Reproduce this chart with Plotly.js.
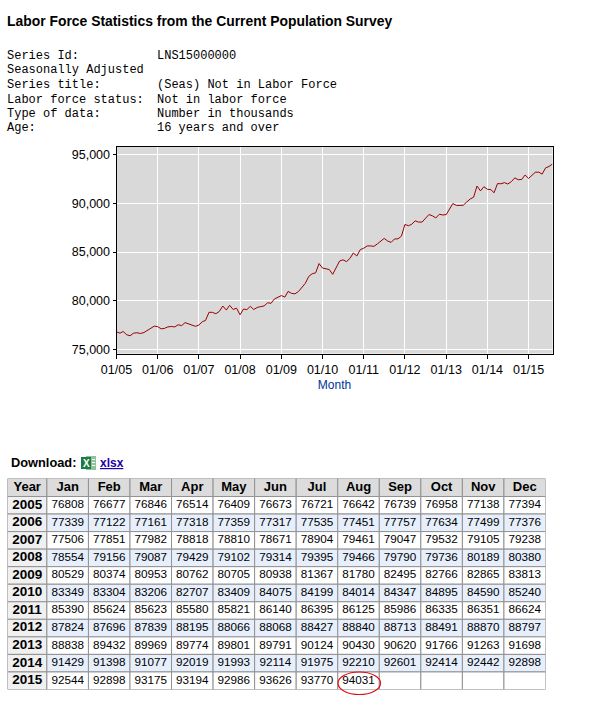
<!DOCTYPE html>
<html><head><meta charset="utf-8">
<script src="https://cdn.plot.ly/plotly-3.0.1.min.js"></script>
<style>html,body{margin:0;padding:0;background:#fff;overflow:hidden}#c{width:598px;height:719px}</style>
</head><body><div id="c"></div>
<script>
const months = ['Jan','Feb','Mar','Apr','May','Jun','Jul','Aug','Sep','Oct','Nov','Dec'];
const years = [2005,2006,2007,2008,2009,2010,2011,2012,2013,2014,2015];
const v2005 = [76808,76677,76846,76514,76409,76673,76721,76642,76739,76958,77138,77394];
const v2006 = [77339,77122,77161,77318,77359,77317,77535,77451,77757,77634,77499,77376];
const v2007 = [77506,77851,77982,78818,78810,78671,78904,79461,79047,79532,79105,79238];
const v2008 = [78554,79156,79087,79429,79102,79314,79395,79466,79790,79736,80189,80380];
const v2009 = [80529,80374,80953,80762,80705,80938,81367,81780,82495,82766,82865,83813];
const v2010 = [83349,83304,83206,82707,83409,84075,84199,84014,84347,84895,84590,85240];
const v2011 = [85390,85624,85623,85580,85821,86140,86395,86125,85986,86335,86351,86624];
const v2012 = [87824,87696,87839,88195,88066,88068,88427,88840,88713,88491,88870,88797];
const v2013 = [88838,89432,89969,89774,89801,89791,90124,90430,90620,91766,91263,91698];
const v2014 = [91429,91398,91077,92019,91993,92114,91975,92210,92601,92414,92442,92898];
const v2015 = [92544,92898,93175,93194,92986,93626,93770,94031];
const rows = [v2005,v2006,v2007,v2008,v2009,v2010,v2011,v2012,v2013,v2014,v2015];

const W = 598, H = 719;
const px = x => x / W, py = y => 1 - y / H;
const MONO = '"Liberation Mono", monospace', SANS = '"Liberation Sans", Arial, sans-serif';

const dates = [], values = [];
rows.forEach((r, i) => r.forEach((v, m) => {
  dates.push(years[i] + '-' + String(m + 1).padStart(2, '0') + '-01');
  values.push(v);
}));
const lineTrace = {type:'scatter', mode:'lines', x:dates, y:values, xaxis:'x', yaxis:'y',
  line:{color:'#990000', width:1}, hoverinfo:'skip', showlegend:false};

/* table: x2 = month index (Year column sits left of 0), y2 = row index (header is -1) */
const XL = -1.448, XR = 11.5, YT = -1.525, YB = 10.5, YEARX = -0.974;
const border = '#929292', blue = '#e6effb', gray = '#f0f0f0', head = '#dcdcdc';
const cellRect = (x0,x1,y0,y1,fill) => ({type:'rect', xref:'x2', yref:'y2', x0, x1, y0, y1, layer:'below',
  fillcolor:fill, line:{color:border, width:1}});
const tableShapes = [];
tableShapes.push(cellRect(XL,-0.5,YT,-0.5,head));
months.forEach((_, m) => tableShapes.push(cellRect(m-0.5,m+0.5,YT,-0.5,head)));
years.forEach((_, r) => {
  tableShapes.push(cellRect(XL,-0.5,r-0.5,r+0.5,gray));
  months.forEach((_, m) => tableShapes.push(cellRect(m-0.5,m+0.5,r-0.5,r+0.5,r%2 ? blue : '#ffffff')));
});
const textTrace = (x,y,text,size) => ({type:'scatter', mode:'text', x, y, text, xaxis:'x2', yaxis:'y2',
  textposition:'middle center', textfont:{family:SANS, size, color:'#000'}, hoverinfo:'skip', showlegend:false, cliponaxis:false});
const hdrX = [YEARX].concat(months.map((_, m) => m));
const hdrT = ['Year'].concat(months).map(t => '<b>'+t+'</b>');
const valX = [], valY = [], valT = [];
rows.forEach((r, i) => r.forEach((v, m) => { valX.push(m); valY.push(i); valT.push(String(v)); }));

const note = (x, y, text, font, size, color) => ({
  xref:'paper', yref:'paper', x:px(x), y:py(y), xanchor:'left', yanchor:'middle',
  showarrow:false, text, font:{family:font, size, color:color||'#000'}, borderpad:0
});
const metaLeft = ['Series Id:','Seasonally Adjusted','Series title:','Labor force status:','Type of data:','Age:'];
const metaRight = ['LNS15000000','','(Seas) Not in Labor Force','Not in labor force','Number in thousands','16 years and over'];
const metaY = [56,70,85,99.5,114,128.5];
const annotations = [
  note(6, 20.5, '<b>Labor Force Statistics from the Current Population Survey</b>', SANS, 13.9),
  note(10, 462.5, '<b>Download:</b>', SANS, 12.8),
  note(99, 462.5, '<b><u>xlsx</u></b>', SANS, 12, '#2200aa'),
  note(82, 463, '<b>X</b>', SANS, 10, '#fff')
];
metaLeft.forEach((t, i) => annotations.push(note(6, metaY[i], t, MONO, 12)));
metaRight.forEach((t, i) => { if (t) annotations.push(note(156, metaY[i], t, MONO, 12)); });

const rect = (x0,y0,x1,y1,fill) => ({type:'rect', xref:'paper', yref:'paper',
  x0:px(x0), x1:px(x1), y0:py(y0), y1:py(y1), fillcolor:fill, line:{width:0}});
const shapes = tableShapes.concat([
  rect(86,456,96,470,'#8fc3a0'),
  rect(81,457,91,469,'#1f7a45'),
  rect(92,459,95,460,'#fff'), rect(92,462,95,463,'#fff'), rect(92,465,95,466,'#fff'),
  {type:'circle', xref:'paper', yref:'paper', x0:px(338), x1:px(380.5), y0:py(694.5), y1:py(672),
   line:{color:'#dd1111', width:1.2}, fillcolor:'rgba(0,0,0,0)', layer:'above'}
]);

const layout = {
  width:W, height:H, margin:{l:0,r:0,t:0,b:0}, paper_bgcolor:'#fff', plot_bgcolor:'#d9d9d9', showlegend:false,
  font:{family:SANS, size:12, color:'#000'},
  xaxis:{type:'date', domain:[px(116.5), px(552.5)], range:['2005-01-01','2015-08-01'],
    dtick:'M12', tick0:'2005-01-01', tickformat:'%m/%y', ticks:'outside', ticklen:4, tickcolor:'#000',
    showline:true, mirror:true, linecolor:'#000', linewidth:1, showgrid:true, gridcolor:'#fff', gridwidth:1, zeroline:false,
    tickfont:{family:SANS, size:12.5, color:'#000'}, anchor:'y',
    title:{text:'Month', font:{family:SANS, size:12, color:'#003399'}, standoff:5}},
  yaxis:{domain:[py(353.5), py(146.5)], range:[74590,95820], tick0:75000, dtick:5000, tickformat:',d',
    ticks:'outside', ticklen:3, tickcolor:'#000', showline:true, mirror:true, linecolor:'#000', linewidth:1,
    showgrid:true, gridcolor:'#fff', gridwidth:1, zeroline:false, tickfont:{family:SANS, size:12.5, color:'#000'}, anchor:'x'},
  xaxis2:{domain:[px(7.5), px(545.5)], range:[XL,XR], visible:false, fixedrange:true, anchor:'y2'},
  yaxis2:{domain:[py(689.5), py(478.5)], range:[YB,YT], visible:false, fixedrange:true, anchor:'x2'},
  annotations, shapes
};
Plotly.newPlot('c', [lineTrace,
  textTrace(hdrX, hdrX.map(() => -1), hdrT, 13),
  textTrace(years.map(() => YEARX), years.map((_, i) => i), years.map(y => '<b>'+y+'</b>'), 13.5),
  textTrace(valX, valY, valT, 11.7)
], layout, {displayModeBar:false});
</script></body></html>
